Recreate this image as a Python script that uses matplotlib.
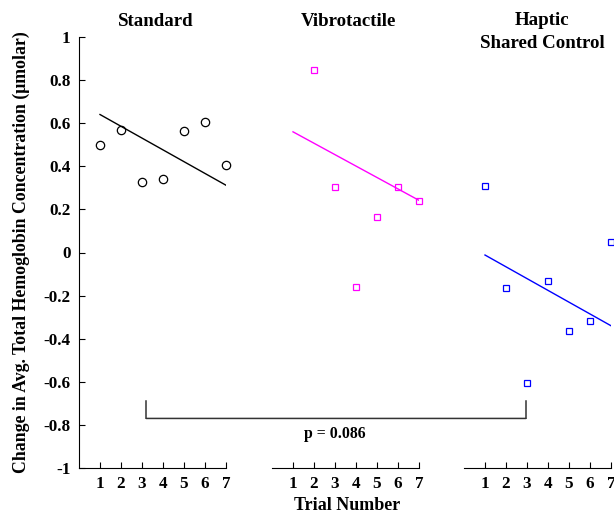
import numpy as np
import matplotlib.pyplot as plt
from matplotlib.patches import ConnectionPatch

plt.rcParams['font.family'] = 'Liberation Serif'
plt.rcParams['font.weight'] = 'bold'

# dados
trials = [1, 2, 3, 4, 5, 6, 7]
standard = [0.50, 0.57, 0.325, 0.34, 0.565, 0.605, 0.405]
vibro = [np.nan, 0.845, 0.303, -0.161, 0.163, 0.302, 0.237]
haptic = [0.307, -0.167, -0.604, -0.132, -0.366, -0.316, 0.048]

# retas de tendencia (inclinacao, intercepto)
fit_standard = [-0.0547, 0.695]
fit_vibro = [-0.053, 0.613]
fit_haptic = [-0.0547, 0.043]

titles = ['Standard', 'Vibrotactile', 'Haptic\nShared Control']
p_text = 'p = 0.086'

fig = plt.figure(figsize=(6.14, 5.15), dpi=100)
w = 147 / 614
bot = 47 / 515
h = 431 / 515
lefts = [79 / 614, 272 / 614, 464 / 614]
axs = [fig.add_axes([l, bot, w, h]) for l in lefts]

series = [standard, vibro, haptic]
fits = [fit_standard, fit_vibro, fit_haptic]
cores = ['black', '#ff00ff', '#0000ff']
mks = ['o', 's', 's']
mss = [6, 4.2, 4.2]

for i, ax in enumerate(axs):
    ax.plot(trials, series[i], linestyle='none', marker=mks[i], mfc='none',
            mec=cores[i], ms=mss[i], mew=0.9, clip_on=False)
    xl = np.array([1, 7])
    ax.plot(xl, fits[i][0] * xl + fits[i][1], color=cores[i], lw=1)
    ax.set_xlim(0, 7)
    ax.set_ylim(-1, 1)
    ax.set_xticks(trials)
    ax.spines['top'].set_visible(False)
    ax.spines['right'].set_visible(False)
    ax.tick_params(direction='in', length=4, width=0.8, labelsize=12.3)
    ax.tick_params(axis='x', pad=6)
    ax.tick_params(axis='y', pad=6)
    for lab in ax.get_xticklabels() + ax.get_yticklabels():
        lab.set_fontweight('bold')
    if i > 0:
        ax.spines['left'].set_visible(False)
        ax.tick_params(axis='y', left=False, labelleft=False)

axs[0].set_yticks([-1, -0.8, -0.6, -0.4, -0.2, 0, 0.2, 0.4, 0.6, 0.8, 1])
axs[0].set_yticklabels(['-1', '-0.8', '-0.6', '-0.4', '-0.2', '0', '0.2', '0.4', '0.6', '0.8', '1'])
for lab in axs[0].get_yticklabels():
    lab.set_fontweight('bold')

axs[0].text(3.67, 1.074, titles[0], ha='center', va='center', fontsize=13.6, fontweight='bold')
axs[1].text(3.62, 1.074, titles[1], ha='center', va='center', fontsize=13.6, fontweight='bold')
axs[2].text(3.71, 1.023, titles[2], ha='center', va='center', fontsize=13.6, fontweight='bold',
            linespacing=1.42)

axs[0].set_ylabel('Change in Avg. Total Hemoglobin Concentration (\u03bcmolar)',
                  fontsize=12.8, fontweight='bold')
axs[0].yaxis.set_label_coords(-0.33, 0.5)
fig.text(347 / 614, 10 / 515, 'Trial Number', ha='center', va='center',
         fontsize=13, fontweight='bold')

# colchete de significancia
yb = -0.77
axs[0].plot([3.2, 3.2], [yb, -0.688], color='#333333', lw=1.1, clip_on=False)
axs[2].plot([2.95, 2.95], [yb, -0.688], color='#333333', lw=1.1, clip_on=False)
con = ConnectionPatch(xyA=(3.2, yb), coordsA=axs[0].transData,
                      xyB=(2.95, yb), coordsB=axs[2].transData,
                      color='#333333', lw=1.1)
fig.add_artist(con)
axs[1].text(3.0, -0.84, p_text, ha='center', va='center', fontsize=11.4, fontweight='bold')

plt.savefig('out.png', dpi=100)
